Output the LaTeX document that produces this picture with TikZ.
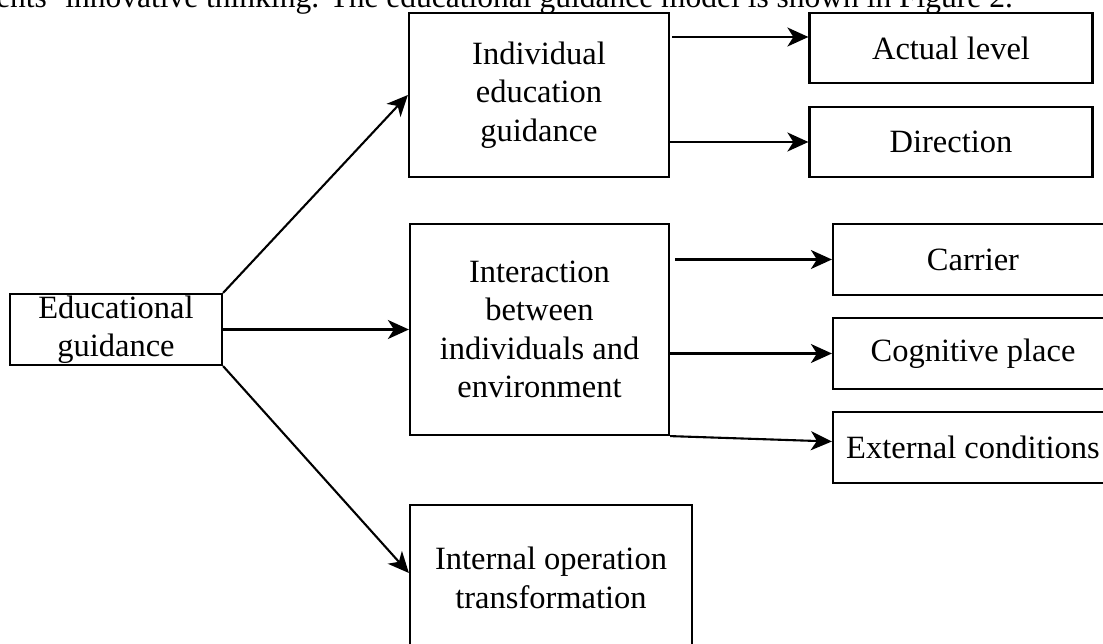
\documentclass[tikz,border=0pt]{standalone}
\usepackage{fontspec}
\setmainfont{Liberation Serif}
\usetikzlibrary{arrows.meta}
\begin{document}
\begin{tikzpicture}[x=1pt,y=1pt,
  box/.style={draw, line width=2.2pt, inner sep=0pt, align=center,
    font=\fontsize{32.5}{38.5}\selectfont, anchor=center},
  arr/.style={line width=2.1pt, -{Stealth[length=21pt,width=19pt,inset=6pt]}},
  body/.style={font=\fontsize{31.5}{38}\selectfont, inner sep=0pt}]
\useasboundingbox (0,0) rectangle (1103,643);
\clip (0,0) rectangle (1103,643);
% top text line (cut off)
\node[body, anchor=base east] (top) at (1013,635) {students' innovative thinking. The educational guidance model is shown in Figure 2.};
% boxes
\node[box, minimum width=212pt, minimum height=71pt] (edu) at (116,313.5) {Educational\\guidance};
\node[box, minimum width=260pt, minimum height=164pt] (ind) at (539,548) {Individual\\education\\guidance};
\node[box, minimum width=283pt, minimum height=70pt] (act) at (951,595) {Actual level};
\node[box, minimum width=283pt, minimum height=70pt] (dir) at (951,501) {Direction};
\node[box, minimum width=259pt, minimum height=211pt] (inter) at (539.5,313.5) {Interaction\\between\\individuals and\\environment};
\node[box, minimum width=280pt, minimum height=71pt] (car) at (973,383.5) {Carrier};
\node[box, minimum width=280pt, minimum height=71pt] (cog) at (973,289.5) {Cognitive place};
\node[box, minimum width=280pt, minimum height=71pt] (ext) at (973,195.5) {External conditions};
\node[box, minimum width=282pt, minimum height=146pt] (int) at (551,65) {Internal operation\\transformation};
% connectors
\draw[arr] (edu.north east) -- (ind.west);
\draw[arr] (edu.east) -- (inter.west);
\draw[arr] (edu.south east) -- ([yshift=5pt]int.west);
\draw[arr] ([xshift=2pt,yshift=58pt]ind.east) -- ([yshift=11pt]act.west);
\draw[arr] ([yshift=-47pt]ind.east) -- (dir.west);
\draw[arr] ([xshift=5pt,yshift=70pt]inter.east) -- (car.west);
\draw[arr] ([yshift=-24pt]inter.east) -- (cog.west);
\draw[arr] (inter.south east) -- ([yshift=6pt]ext.west);
\end{tikzpicture}
\end{document}
